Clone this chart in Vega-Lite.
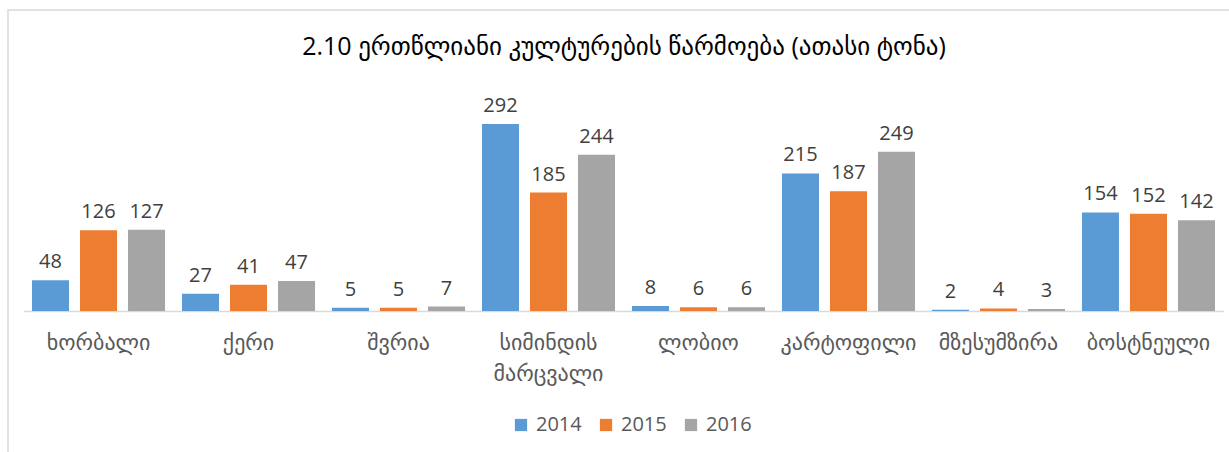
{
  "$schema": "https://vega.github.io/schema/vega-lite/v6.json",
  "autosize": {"type": "none"},
  "padding": {"left": 8, "top": 10, "right": 0, "bottom": 0},
  "width": 1232,
  "height": 460,
  "background": "white",
  "title": {
    "text": "2.10 ერთწლიანი კულტურების წარმოება (ათასი ტონა)",
    "font": "Open Sans, DejaVu Sans",
    "fontSize": 25,
    "fontWeight": "normal",
    "color": "#000000",
    "anchor": "middle",
    "baseline": "alphabetic",
    "offset": -70
  },
  "data": {
    "values": [
      {"crop": "ხორბალი", "year": "2014", "value": 48},
      {"crop": "ხორბალი", "year": "2015", "value": 126},
      {"crop": "ხორბალი", "year": "2016", "value": 127},
      {"crop": "ქერი", "year": "2014", "value": 27},
      {"crop": "ქერი", "year": "2015", "value": 41},
      {"crop": "ქერი", "year": "2016", "value": 47},
      {"crop": "შვრია", "year": "2014", "value": 5},
      {"crop": "შვრია", "year": "2015", "value": 5},
      {"crop": "შვრია", "year": "2016", "value": 7},
      {"crop": "სიმინდის მარცვალი", "year": "2014", "value": 292},
      {"crop": "სიმინდის მარცვალი", "year": "2015", "value": 185},
      {"crop": "სიმინდის მარცვალი", "year": "2016", "value": 244},
      {"crop": "ლობიო", "year": "2014", "value": 8},
      {"crop": "ლობიო", "year": "2015", "value": 6},
      {"crop": "ლობიო", "year": "2016", "value": 6},
      {"crop": "კარტოფილი", "year": "2014", "value": 215},
      {"crop": "კარტოფილი", "year": "2015", "value": 187},
      {"crop": "კარტოფილი", "year": "2016", "value": 249},
      {"crop": "მზესუმზირა", "year": "2014", "value": 2},
      {"crop": "მზესუმზირა", "year": "2015", "value": 4},
      {"crop": "მზესუმზირა", "year": "2016", "value": 3},
      {"crop": "ბოსტნეული", "year": "2014", "value": 154},
      {"crop": "ბოსტნეული", "year": "2015", "value": 152},
      {"crop": "ბოსტნეული", "year": "2016", "value": 142}
    ]
  },
  "encoding": {
    "x": {
      "field": "crop",
      "type": "nominal",
      "sort": null,
      "scale": {"range": [15.5, 1215.5], "paddingInner": 0.113, "paddingOuter": 0.0567},
      "axis": {
        "title": null,
        "offset": -159,
        "ticks": false,
        "domainColor": "#D9D9D9",
        "domainWidth": 1.5,
        "labelAngle": 0,
        "labelFont": "Open Sans, DejaVu Sans",
        "labelFontSize": 22,
        "labelColor": "#595959",
        "labelPadding": 21,
        "labelBaseline": "top",
        "labelLineHeight": 31,
        "labelLimit": 300,
        "labelExpr": "datum.value == 'სიმინდის მარცვალი' ? ['სიმინდის', 'მარცვალი'] : datum.value"
      }
    },
    "xOffset": {
      "field": "year",
      "type": "nominal",
      "scale": {"paddingInner": 0.229, "paddingOuter": 0}
    },
    "y": {
      "field": "value",
      "type": "quantitative",
      "scale": {"domain": [-248.4, 470.3], "nice": false, "zero": false},
      "axis": null
    }
  },
  "layer": [
    {
      "mark": {"type": "bar"},
      "encoding": {
        "y2": {"datum": 0},
        "color": {
          "field": "year",
          "type": "nominal",
          "scale": {"domain": ["2014", "2015", "2016"], "range": ["#5B9BD5", "#ED7D31", "#A5A5A5"]},
          "legend": {
            "title": null,
            "orient": "none",
            "direction": "horizontal",
            "legendX": 503,
            "legendY": 405,
            "symbolType": "square",
            "symbolSize": 150,
            "symbolStrokeWidth": 0,
            "labelFont": "Open Sans, DejaVu Sans",
            "labelFontSize": 20,
            "labelColor": "#595959",
            "labelOffset": 5,
            "columnPadding": 14
          }
        }
      }
    },
    {
      "mark": {
        "type": "text",
        "baseline": "bottom",
        "dy": -8,
        "font": "Open Sans, DejaVu Sans",
        "fontSize": 20,
        "color": "#404040"
      },
      "encoding": {
        "text": {"field": "value", "type": "quantitative"}
      }
    }
  ],
  "config": {
    "view": {"stroke": "#D9D9D9", "strokeWidth": 1.5},
    "axis": {"grid": false}
  }
}
